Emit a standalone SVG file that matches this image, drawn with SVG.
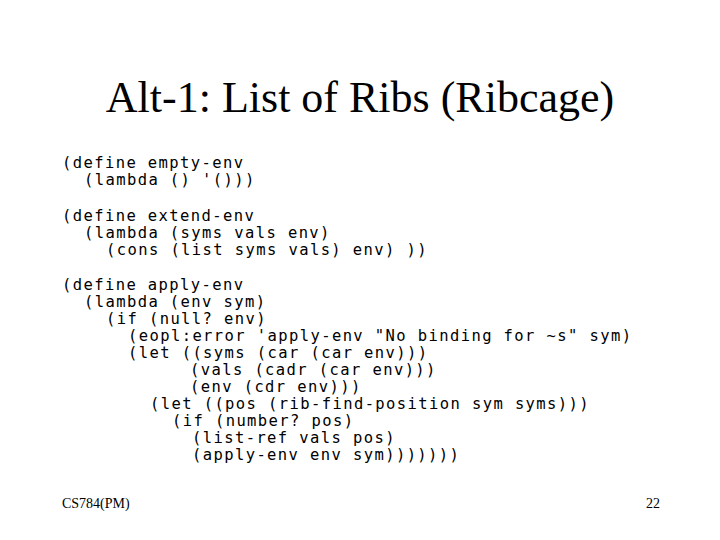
<svg xmlns="http://www.w3.org/2000/svg" width="720" height="540" viewBox="0 0 720 540">
<style>
.c{font-family:"DejaVu Sans Mono","Liberation Mono",monospace;font-size:15.5px;letter-spacing:1.4px;fill:#000;white-space:pre}
.t{font-family:"Liberation Serif",serif;fill:#000}
</style>
<rect width="720" height="540" fill="#fff"/>
<g id="title"><text class="t" x="360" y="112" font-size="44" text-anchor="middle">Alt-1: List of Ribs (Ribcage)</text></g>
<g id="code">
<text class="c" x="62" y="168">(define empty-env</text>
<text class="c" x="84" y="185">(lambda () '()))</text>
<text class="c" x="62" y="221">(define extend-env</text>
<text class="c" x="84" y="238">(lambda (syms vals env)</text>
<text class="c" x="106" y="255">(cons (list syms vals) env) ))</text>
<text class="c" x="62" y="290">(define apply-env</text>
<text class="c" x="84" y="307">(lambda (env sym)</text>
<text class="c" x="106" y="324">(if (null? env)</text>
<text class="c" x="128" y="341">(eopl:error 'apply-env "No binding for ~s" sym)</text>
<text class="c" x="128" y="358">(let ((syms (car (car env)))</text>
<text class="c" x="190" y="375">(vals (cadr (car env)))</text>
<text class="c" x="190" y="392">(env (cdr env)))</text>
<text class="c" x="150" y="409">(let ((pos (rib-find-position sym syms)))</text>
<text class="c" x="172" y="426">(if (number? pos)</text>
<text class="c" x="192" y="443">(list-ref vals pos)</text>
<text class="c" x="192" y="460">(apply-env env sym)))))))</text>
</g>
<g id="footer">
<text class="t" x="62" y="508" font-size="14">CS784(PM)</text>
<text class="t" x="660" y="508" font-size="14" text-anchor="end">22</text>
</g>
</svg>
